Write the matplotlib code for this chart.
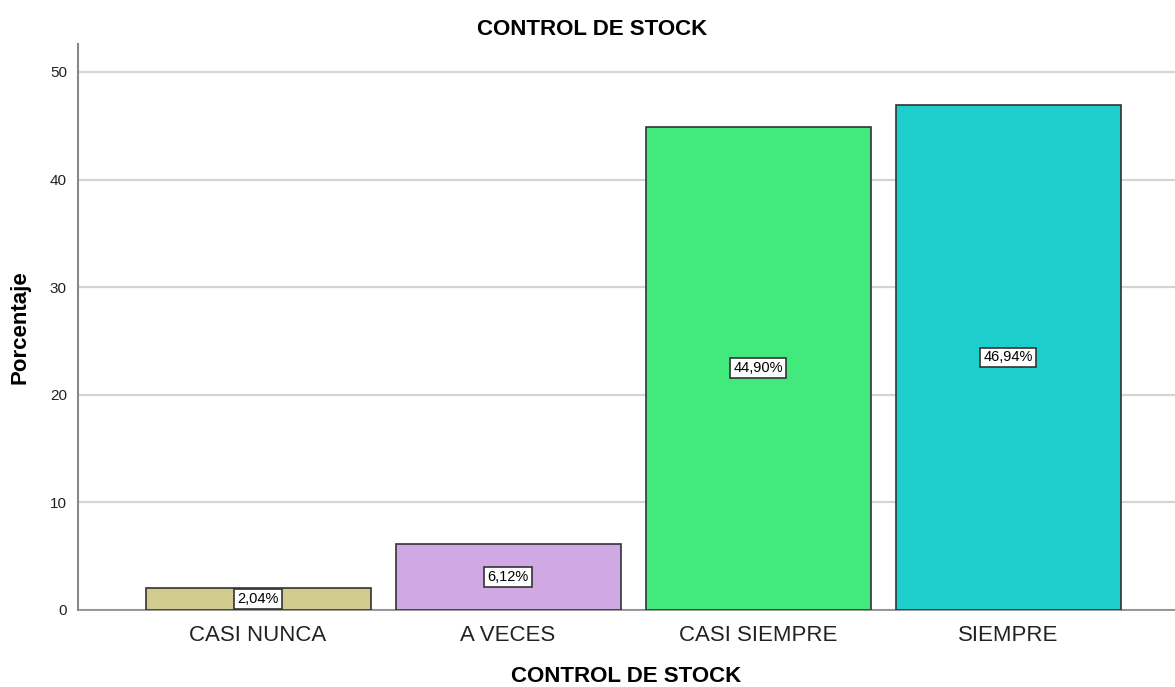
import matplotlib
matplotlib.use('Agg')
import matplotlib.pyplot as plt

plt.rcParams['font.family'] = ['Liberation Sans', 'DejaVu Sans']

categories = ['CASI NUNCA', 'A VECES', 'CASI SIEMPRE', 'SIEMPRE']
values = [2.04, 6.12, 44.90, 46.94]
labels = ['2,04%', '6,12%', '44,90%', '46,94%']
colors = ['#D2CB8E', '#D0A8E4', '#42E97D', '#1DCECD']

fig = plt.figure(figsize=(11.75, 6.87), dpi=100)
ax = fig.add_axes([0.0664, 0.1121, 0.9336, 0.8239])

x = range(len(categories))
ax.bar(x, values, width=0.9, color=colors, edgecolor='#333333', linewidth=1.2, zorder=3)

for i, (v, lab) in enumerate(zip(values, labels)):
    ax.text(i, v / 2, lab, ha='center', va='center', fontsize=10.5, zorder=4,
            bbox=dict(boxstyle='square,pad=0.2', fc='white', ec='#333333', lw=1.2))

ax.set_xlim(-0.72, 3.668)
ax.set_ylim(0, 52.6)
ax.set_yticks([0, 10, 20, 30, 40, 50])
ax.set_xticks(list(x))
ax.set_xticklabels(categories, fontsize=16, color='#222222')
ax.tick_params(axis='y', labelsize=11, length=0, pad=8, colors='#222222')
ax.tick_params(axis='x', length=0, pad=11)
ax.yaxis.grid(True, color='#d4d4d4', linewidth=1.6, zorder=0)
ax.set_axisbelow(True)

for s in ['top', 'right']:
    ax.spines[s].set_visible(False)
ax.spines['left'].set_color('#888888')
ax.spines['left'].set_linewidth(1.5)
ax.spines['bottom'].set_color('#888888')
ax.spines['bottom'].set_linewidth(1.2)

# title centred on the figure, x label centred on the axes
fig.suptitle('CONTROL DE STOCK', fontsize=16, fontweight='bold', x=0.504, y=0.972)
ax.set_xlabel('CONTROL DE STOCK', fontsize=16, fontweight='bold', labelpad=14)
ax.set_ylabel('Porcentaje', fontsize=16, fontweight='bold', labelpad=14)

fig.savefig('out.png', dpi=100)
